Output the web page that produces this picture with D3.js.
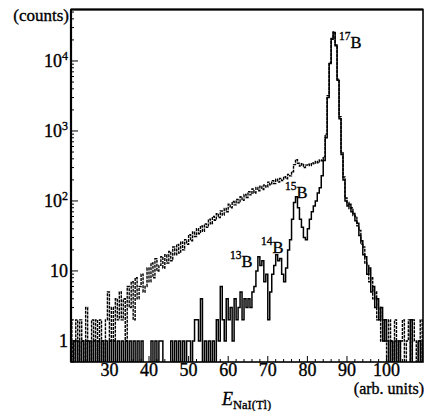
<!DOCTYPE html>
<html><head><meta charset="utf-8">
<script src="https://cdn.jsdelivr.net/npm/d3@7"></script>
<style>html,body{margin:0;padding:0;background:#fff;}svg{display:block;} text{stroke:#000;stroke-width:0.35px;}</style>
</head><body>
<svg id="chart" width="425" height="411" font-family="'Liberation Serif', 'Times New Roman', 'DejaVu Serif', serif"></svg>
<script>
// ---- data ----
const binStart = 20;
const binWidth = 0.5;
// all events (upper, dashed spectrum), counts per 0.5-unit bin from 20 to 110
const allCounts = [
  2,0,1,2,0,2,1,0,3,1,
  0,2,1,2,0,2,1,0,2,5,
  1,3,1,4,2,5,2,4,1,6,
  3,7,2,8,4,6,9,5,6,11,
  7,13,8,15,10,12,16,11,17,13,
  19,14,22,17,24,18,26,20,28,24,
  33,27,36,31,40,34,44,37,47,42,
  55,47,60,53,66,58,72,63,78,70,
  90,80,98,88,105,94,115,102,124,112,
  136,122,148,130,156,140,162,146,170,158,
  186,170,195,178,204,186,210,196,222,208,
  240,228,262,330,390,345,315,340,300,325,
  335,320,350,340,368,352,385,375,430,900,
  3200,9500,21000,26000,17000,5500,1600,500,220,110,
  95,78,80,62,60,44,38,24,22,13,
  12,7,8,4,5,2,3,1,2,1,
  0,2,1,0,2,1,0,1,2,0,
  1,2,0,2,1,0,1,2,0,1
];
// gated spectrum (lower, solid)
const gatedCounts = [
  1,0,1,0,1,0,1,0,1,0,
  1,0,1,0,1,0,1,0,1,0,
  1,0,1,0,1,0,1,0,1,0,
  1,0,1,0,1,0,1,0,0,0,
  0,1,0,1,0,1,1,0,0,0,
  0,1,0,1,0,1,0,1,0,1,
  1,0,1,2,2,1,4,0,1,0,
  1,0,1,0,2,1,6,2,1,4,
  2,3,1,4,2,3,5,2,4,3,
  4,3,5,6,10,16,12,14,7,9,
  2,5,9,12,17,14,15,9,7,11,
  20,28,55,95,115,80,55,42,30,28,
  40,55,70,85,100,130,155,230,380,800,
  3000,9200,20500,25500,16500,5300,1500,460,200,100,
  85,90,70,66,52,48,32,27,17,16,
  9,11,5,6,3,4,2,3,1,2,
  1,0,1,0,1,0,1,0,0,0,
  0,0,2,0,0,0,1,0,1,1
];
const xTickValues = [30,40,50,60,70,80,90,100];
const yTickExponents = [0,1,2,3,4];
const peakLabels = [
  {mass:"17", elem:"B"},
  {mass:"15", elem:"B"},
  {mass:"14", elem:"B"},
  {mass:"13", elem:"B"}
];

// ---- scales ----
const L = 71, R = 423, T = 9.5, B = 362;
const x = d3.scaleLinear().domain([20.3, 109.2]).range([L, R]);
const y = d3.scaleLog().domain([0.5, 54400]).range([B, T]);
const svg = d3.select("#chart");

svg.append("defs").append("clipPath").attr("id","clip")
  .append("rect").attr("x",L).attr("y",T).attr("width",R-L).attr("height",B-T);

function toPoints(arr){
  const pts = arr.map((c,i)=>({e: binStart + i*binWidth, c: c}));
  pts.push({e: binStart + arr.length*binWidth, c: arr[arr.length-1]});
  return pts;
}
const line = d3.line()
  .x(d=>x(d.e))
  .y(d=>y(Math.max(d.c, 0.3)))
  .curve(d3.curveStepAfter);

const g = svg.append("g").attr("clip-path","url(#clip)");
g.append("path").attr("d", line(toPoints(allCounts)))
  .attr("fill","none").attr("stroke","#000").attr("stroke-width",1.4)
  .attr("stroke-dasharray","3,1");
g.append("path").attr("d", line(toPoints(gatedCounts)))
  .attr("fill","none").attr("stroke","#000").attr("stroke-width",1.5);

// ---- axes ticks ----
const ax = svg.append("g").attr("stroke","#000");
for (let v = 22; v <= 108; v += 2) {
  const major = v % 10 === 0;
  ax.append("line").attr("x1",x(v)).attr("x2",x(v)).attr("y1",B).attr("y2",B-(major?6:3)).attr("stroke-width",1);
}
for (let p = -1; p <= 4; p++) {
  for (let m = 1; m <= 9; m++) {
    const v = m*Math.pow(10,p);
    if (v < 0.5 || v > 54400) continue;
    const major = m === 1;
    ax.append("line").attr("x1",L).attr("x2",L+(major?7:3)).attr("y1",y(v)).attr("y2",y(v)).attr("stroke-width",1);
  }
}
svg.append("rect").attr("x",L).attr("y",T).attr("width",R-L).attr("height",B-T)
  .attr("fill","none").attr("stroke","#000").attr("stroke-width",1.6);
svg.append("line").attr("x1",L).attr("x2",L).attr("y1",T).attr("y2",B).attr("stroke","#000").attr("stroke-width",2.2);
svg.append("line").attr("x1",L).attr("x2",R).attr("y1",T).attr("y2",T).attr("stroke","#000").attr("stroke-width",2.2);

// ---- labels ----
const fs = 18;
svg.selectAll(".xl").data(xTickValues).enter().append("text")
  .attr("x",d=>x(d)).attr("y",376).attr("text-anchor","middle")
  .attr("font-size",fs).text(d=>d);

yTickExponents.forEach(p=>{
  const t = svg.append("text").attr("x",68).attr("y",y(Math.pow(10,p))+6)
    .attr("text-anchor","end").attr("font-size",fs);
  if (p === 0) t.text("1");
  else if (p === 1) t.text("10");
  else {
    t.append("tspan").text("10");
    t.append("tspan").attr("font-size",12).attr("dy",-7).text(p);
  }
});

svg.append("text").attr("x",69).attr("y",21).attr("text-anchor","end")
  .attr("font-size",17).text("(counts)");
svg.append("text").attr("x",424).attr("y",394).attr("text-anchor","end")
  .attr("font-size",16).text("(arb. units)");
const xl = svg.append("text").attr("x",222).attr("y",405).attr("font-size",18);
xl.append("tspan").attr("font-style","italic").text("E");
xl.append("tspan").attr("font-size",12.5).attr("dy",4).text("NaI(Tl)");

const labelPos = {"17":[339,48],"15":[285,198],"14":[261,253],"13":[230,267]};
peakLabels.forEach(d=>{
  const p = labelPos[d.mass];
  const t = svg.append("text").attr("x",p[0]).attr("y",p[1]).attr("font-size",16.5);
  t.append("tspan").attr("font-size",11.5).attr("dy",-8).text(d.mass);
  t.append("tspan").attr("dy",8).text(d.elem);
});
</script>
</body></html>
